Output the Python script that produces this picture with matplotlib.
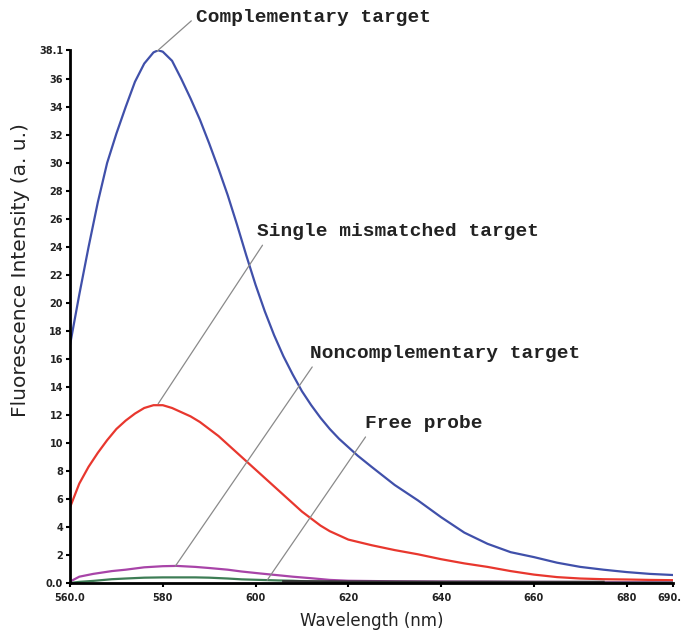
import matplotlib
matplotlib.use("Agg")
import matplotlib.pyplot as plt
import numpy as np

# Spectra (wavelength in nm, intensity in a.u.)
wl_blue = [560, 562, 564, 566, 568, 570, 572, 574, 576, 578, 579, 580, 582, 584, 586, 588,
           590, 592, 594, 596, 598, 600, 602, 604, 606, 608, 610, 612, 614, 616, 618,
           620, 622, 625, 630, 635, 640, 645, 650, 655, 660, 665, 670, 675, 680, 685, 690]
complementary = [17.0, 20.6, 24.0, 27.2, 30.0, 32.1, 34.0, 35.8, 37.1, 37.9, 38.05, 37.95,
                 37.3, 36.0, 34.6, 33.1, 31.4, 29.6, 27.7, 25.6, 23.4, 21.3, 19.4, 17.7,
                 16.2, 14.9, 13.7, 12.7, 11.8, 11.0, 10.3, 9.7, 9.1, 8.3, 7.0, 5.9, 4.7,
                 3.6, 2.8, 2.2, 1.85, 1.45, 1.15, 0.95, 0.78, 0.65, 0.57]

wl_red = [560, 562, 564, 566, 568, 570, 572, 574, 576, 578, 580, 582, 584, 586, 588,
          590, 592, 594, 596, 598, 600, 602, 604, 606, 608, 610, 612, 614, 616, 618,
          620, 625, 630, 635, 640, 645, 650, 655, 660, 665, 670, 675, 680, 685, 690]
single_mismatch = [5.4, 7.1, 8.3, 9.3, 10.2, 11.0, 11.6, 12.1, 12.5, 12.7, 12.7, 12.5,
                   12.2, 11.9, 11.5, 11.0, 10.5, 9.9, 9.3, 8.7, 8.1, 7.5, 6.9, 6.3, 5.7,
                   5.1, 4.6, 4.1, 3.7, 3.4, 3.1, 2.7, 2.35, 2.05, 1.7, 1.4, 1.15, 0.85,
                   0.6, 0.42, 0.32, 0.27, 0.25, 0.22, 0.2]

wl_low = [560, 562, 565, 569, 572, 576, 580, 583, 587, 590, 594, 597, 601, 605, 608,
          612, 616, 620, 630, 640, 650, 660, 670, 680, 690]
noncomplementary = [0.1, 0.45, 0.65, 0.85, 0.95, 1.12, 1.2, 1.22, 1.15, 1.07, 0.95, 0.82,
                    0.68, 0.55, 0.45, 0.34, 0.22, 0.16, 0.12, 0.1, 0.09, 0.08, 0.07,
                    0.06, 0.05]
free_probe = [0.0, 0.08, 0.15, 0.27, 0.32, 0.38, 0.4, 0.4, 0.4, 0.38, 0.32, 0.26, 0.22,
              0.18, 0.16, 0.1, 0.07, 0.05, 0.04, 0.03, 0.03, 0.02, 0.02, 0.02, 0.02]

# dark baseline trace visible under the tails
wl_base = [606, 620, 630, 640, 650, 660, 675]
baseline = [0.12, 0.1, 0.09, 0.08, 0.08, 0.07, 0.07]

x_ticks = [560, 580, 600, 620, 640, 660, 680, 690]
x_ticklabels = ["560.0", "580", "600", "620", "640", "660", "680", "690.0"]
y_ticks = list(range(0, 37, 2)) + [38.1]
y_ticklabels = ["0.0"] + [str(v) for v in range(2, 37, 2)] + ["38.1"]

fig = plt.figure(figsize=(6.81, 6.35), dpi=100)
ax = fig.add_axes([0.1028, 0.0819, 0.8855, 0.840])

ax.plot(wl_blue, complementary, color="#4050aa", linewidth=1.6)
ax.plot(wl_red, single_mismatch, color="#e8372e", linewidth=1.6)
ax.plot(wl_low, noncomplementary, color="#a844a8", linewidth=1.6)
ax.plot(wl_low, free_probe, color="#3d7d55", linewidth=1.6)
ax.plot(wl_base, baseline, color="#333333", linewidth=1.8)

ax.set_xlim(560, 690)
ax.set_ylim(0, 38.1)
ax.set_xticks(x_ticks)
ax.set_xticklabels(x_ticklabels)
ax.set_yticks(y_ticks)
ax.set_yticklabels(y_ticklabels)

for s in ["top", "right"]:
    ax.spines[s].set_visible(False)
for s in ["left", "bottom"]:
    ax.spines[s].set_linewidth(2)
ax.tick_params(axis="both", direction="out", length=3, width=1.5,
               labelsize=7, pad=2)
ax.tick_params(axis="x", pad=4)
for lab in ax.get_xticklabels() + ax.get_yticklabels():
    lab.set_fontweight("bold")
    lab.set_color("#222222")

ax.set_xlabel("Wavelength (nm)", fontsize=12, color="#222222", labelpad=7)
ax.set_ylabel("Fluorescence Intensity (a. u.)", fontsize=14.5, color="#222222")
ax.yaxis.set_label_coords(-0.066, 0.587)

# call-out labels with thin gray leader lines
label_font = dict(family="Liberation Mono", fontsize=14, fontweight="bold", color="#222222")
callouts = [
    ("Complementary target", (578.8, 38.0), (587.2, 40.4), (0.0, 0.55)),
    ("Single mismatched target", (579.0, 12.8), (600.4, 25.1), (0.03, 0.0)),
    ("Noncomplementary target", (582.7, 1.2), (611.8, 16.4), (0.02, 0.0)),
    ("Free probe", (602.5, 0.2), (623.7, 11.4), (0.03, 0.0)),
]
for text, xy, xytext, rel in callouts:
    ax.annotate(text, xy=xy, xytext=xytext, ha="left", va="center",
                annotation_clip=False, **label_font,
                arrowprops=dict(arrowstyle="-", color="#8a8a8a", linewidth=0.9,
                                relpos=rel, shrinkA=2, shrinkB=0))

fig.savefig("out.png", dpi=100)
